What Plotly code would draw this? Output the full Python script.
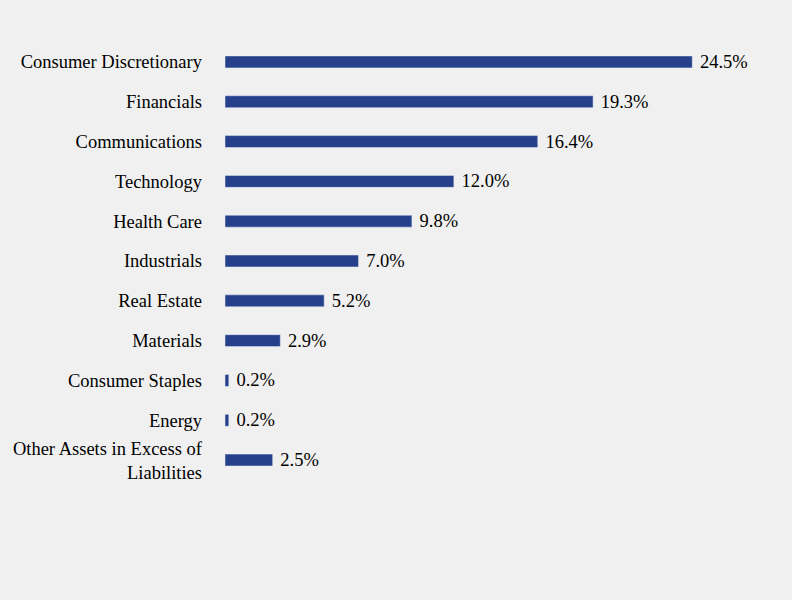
import plotly.graph_objects as go

sectors = ["Consumer Discretionary", "Financials", "Communications", "Technology",
           "Health Care", "Industrials", "Real Estate", "Materials",
           "Consumer Staples", "Energy", "Other Assets in Excess of<br>Liabilities"]
weights = [24.5, 19.3, 16.4, 12.0, 9.8, 7.0, 5.2, 2.9, 0.2, 0.2, 2.5]
labels = [f" {w:.1f}%" for w in weights]

fig = go.Figure(go.Bar(
    x=weights,
    y=sectors,
    orientation="h",
    width=0.3,
    marker=dict(color="#27408b"),
    text=labels,
    textposition="outside",
    constraintext="none",
    textfont=dict(color="#000000", size=18.5),
    cliponaxis=False,
))

fig.update_layout(
    width=792, height=600,
    paper_bgcolor="#f0f0f0",
    plot_bgcolor="#f0f0f0",
    font=dict(family="Liberation Serif, Times New Roman, serif", size=18.5, color="#000000"),
    margin=dict(l=225, r=12, t=42, b=120),
    showlegend=False,
    xaxis=dict(range=[0, 29.1], visible=False, fixedrange=True),
    yaxis=dict(autorange="reversed", showgrid=False, zeroline=False,
               ticklabelstandoff=22, tickfont=dict(size=18.5)),
)

# drop the page margin so the grey fills the whole window
fig.write_html("out.html", config={"displayModeBar": False},
               post_script="document.body.style.margin='0';")
